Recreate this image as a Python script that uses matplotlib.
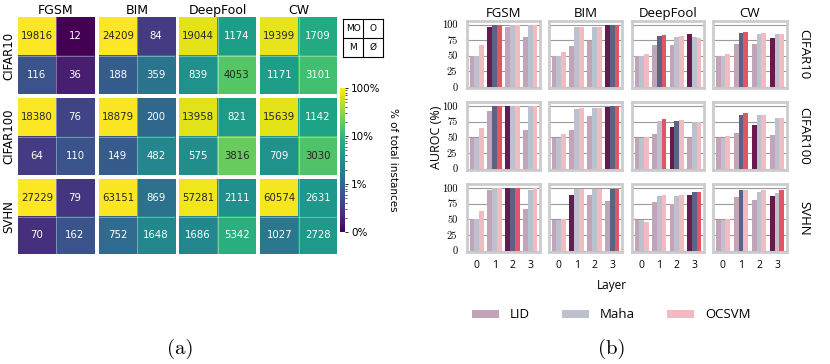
import matplotlib
matplotlib.use("Agg")
import matplotlib.pyplot as plt
import numpy as np
from matplotlib.colors import LogNorm, to_rgb
from matplotlib.patches import Patch

W, H = 830, 364

attacks = ["FGSM", "BIM", "DeepFool", "CW"]
datasets = ["CIFAR10", "CIFAR100", "SVHN"]
layers = [0, 1, 2, 3]
methods = ["LID", "Maha", "OCSVM"]

# (a) instance counts, 2x2 per dataset/attack: [[MO, O], [M, Ø]]
counts_cifar10 = {
    "FGSM": [[19816, 12], [116, 36]],
    "BIM": [[24209, 84], [188, 359]],
    "DeepFool": [[19044, 1174], [839, 4053]],
    "CW": [[19399, 1709], [1171, 3101]],
}
counts_cifar100 = {
    "FGSM": [[18380, 76], [64, 110]],
    "BIM": [[18879, 200], [149, 482]],
    "DeepFool": [[13958, 821], [575, 3816]],
    "CW": [[15639, 1142], [709, 3030]],
}
counts_svhn = {
    "FGSM": [[27229, 79], [70, 162]],
    "BIM": [[63151, 869], [752, 1648]],
    "DeepFool": [[57281, 2111], [1686, 5342]],
    "CW": [[60574, 2631], [1027, 2728]],
}
counts = {"CIFAR10": counts_cifar10, "CIFAR100": counts_cifar100, "SVHN": counts_svhn}

# (b) AUROC (%) per layer, rows: LID, Maha, OCSVM
auroc_cifar10 = {
    "FGSM": [[50, 97, 96, 81], [50, 100, 100, 100], [67, 100, 100, 100]],
    "BIM": [[49, 66, 74, 100], [49, 97, 97, 100], [56, 97, 97, 100]],
    "DeepFool": [[49, 67, 68, 85], [49, 81.5, 80.5, 80], [52, 84, 82, 79]],
    "CW": [[49, 69, 69, 79], [49, 86, 85, 85], [52, 88, 86, 85]],
}
auroc_cifar100 = {
    "FGSM": [[49, 91, 100, 62], [49, 100, 100, 100], [64, 100, 100, 100]],
    "BIM": [[49, 62, 83, 98], [49, 95, 97, 100], [55, 97, 97, 100]],
    "DeepFool": [[49, 55, 66, 49], [49, 76, 76.5, 74], [51, 78.5, 78, 74]],
    "CW": [[49, 57, 69, 54], [49, 86, 85, 81], [52, 88, 86, 81]],
}
auroc_svhn = {
    "FGSM": [[50, 97, 100, 67], [50, 99.5, 100, 97], [63, 99.6, 100, 99.8]],
    "BIM": [[49, 89, 88.5, 79], [49, 98, 98, 98.5], [51, 98, 98, 98.5]],
    "DeepFool": [[49, 77, 75, 88.5], [49, 87, 87, 93], [46, 89, 88.5, 94]],
    "CW": [[49, 86, 80, 87.5], [49, 96, 94, 92], [50, 96, 96, 97]],
}
auroc = {"CIFAR10": auroc_cifar10, "CIFAR100": auroc_cifar100, "SVHN": auroc_svhn}

method_colors = ["#661b4f", "#5a6285", "#e15665"]


def box(l, t, r, b):
    return [l / W, 1 - b / H, (r - l) / W, (b - t) / H]


def light(c, a=0.4):
    rgb = np.array(to_rgb(c))
    return tuple(a * rgb + (1 - a))


def lum(c):
    rgb = np.array(c[:3])
    rgb = np.where(rgb <= .03928, rgb / 12.92, ((rgb + .055) / 1.055) ** 2.4)
    return rgb.dot([.2126, .7152, .0722])


fig = plt.figure(figsize=(W / 100, H / 100), dpi=100)
cmap = plt.get_cmap("viridis")
norm = LogNorm(vmin=1e-3, vmax=1)

# ---------------- (a) heatmaps ----------------
hm_cols = [(18, 94), (99, 175), (179, 256), (260, 337)]
hm_rows = [(17, 94), (98, 175), (179, 254)]
for i, ds in enumerate(datasets):
    for j, att in enumerate(attacks):
        ax = fig.add_axes(box(hm_cols[j][0], hm_rows[i][0], hm_cols[j][1], hm_rows[i][1]))
        c = np.array(counts[ds][att])
        frac = c / c.sum()
        ax.imshow(frac, cmap=cmap, norm=norm, aspect="auto")
        for (r, k), v in np.ndenumerate(c):
            col = cmap(norm(frac[r, k]))
            tc = "#262626" if lum(col) > .408 else "white"
            ax.text(k, r, str(v), ha="center", va="center", fontsize=7.3, color=tc)
        ax.axhline(0.5, color="white", lw=0.5, alpha=0.5)
        ax.axvline(0.5, color="white", lw=0.5, alpha=0.5)
        ax.set_xticks([])
        ax.set_yticks([])
        for s in ax.spines.values():
            s.set_visible(False)
        if i == 0:
            ax.set_title(att, fontsize=9, pad=2)
        if j == 0:
            ax.set_ylabel(ds, fontsize=8.5, labelpad=2)

# colorbar
cax = fig.add_axes(box(340, 88, 345, 232))
sm = plt.cm.ScalarMappable(norm=norm, cmap=cmap)
cb = fig.colorbar(sm, cax=cax)
cb.outline.set_visible(False)
cb.set_ticks([1e-3, 1e-2, 1e-1, 1])
cb.set_ticklabels(["0%", "1%", "10%", "100%"])
cb.ax.tick_params(labelsize=7.5, length=2.5, width=0.6, pad=2)
cb.ax.tick_params(which="minor", length=1.5, width=0.5)
fig.text(393, H - 160, "% of total instances", rotation=-90, fontsize=7.5,
         ha="center", va="center", transform=None)

# key box
kax = fig.add_axes(box(343, 19, 383, 57))
kax.set_xlim(0, 2)
kax.set_ylim(2, 0)
kax.axhline(1, color="black", lw=0.8)
kax.axvline(1, color="black", lw=0.8)
for (r, k), t in np.ndenumerate(np.array([["MO", "O"], ["M", "Ø"]])):
    kax.text(k + 0.5, r + 0.5, t, ha="center", va="center", fontsize=6.5)
kax.set_xticks([])
kax.set_yticks([])
for s in kax.spines.values():
    s.set_linewidth(0.8)

fig.text(180, H - 349, "(a)", fontsize=15, family="cmr10", ha="center", va="center", transform=None)

# ---------------- (b) bar charts ----------------
bar_cols = [(467, 540), (549, 622), (632, 704), (713, 787)]
bar_rows = [(21, 88), (102, 170), (184, 252)]
x = np.arange(len(layers))
bw = 0.8 / 3
sans = "Open Sans"
for i, ds in enumerate(datasets):
    for j, att in enumerate(attacks):
        ax = fig.add_axes(box(bar_cols[j][0], bar_rows[i][0], bar_cols[j][1], bar_rows[i][1]))
        vals = np.array(auroc[ds][att])
        for m in range(3):
            best = np.argmax(vals[m])
            cols = [method_colors[m] if l == best else light(method_colors[m]) for l in layers]
            ax.bar(x + (m - 1) * bw, vals[m], width=bw, color=cols, zorder=2, linewidth=0)
        ax.set_ylim(-2, 106)
        ax.set_xlim(-0.55, 3.55)
        ax.set_yticks([0, 25, 50, 75, 100])
        ax.yaxis.grid(True, color="#9a9a9a", lw=0.8, zorder=1)
        ax.set_axisbelow(True)
        for s in ax.spines.values():
            s.set_color("#cccccc")
            s.set_linewidth(2)
        ax.tick_params(length=0)
        ax.set_xticks(x)
        if i == len(datasets) - 1:
            ax.set_xticklabels([str(l) for l in layers], fontsize=7.5, family=sans)
            ax.tick_params(axis="x", pad=6)
        else:
            ax.set_xticklabels([])
        if j == 0:
            ax.set_yticklabels(["0", "25", "50", "75", "100"], fontsize=7.5, family="cmr10")
            ax.tick_params(axis="y", pad=7)
        else:
            ax.set_yticklabels([])
        if i == 0:
            ax.set_title(att, fontsize=9.5, pad=3, family=sans)
        if j == len(attacks) - 1:
            ax.yaxis.set_label_position("right")
            ax.set_ylabel(ds, rotation=-90, fontsize=9.5, labelpad=12, family=sans, va="center")

fig.text(437, H - 137, "AUROC (%)", rotation=90, fontsize=9, family=sans,
         ha="center", va="center", transform=None)
fig.text(612, H - 285, "Layer", fontsize=8.5, family=sans, ha="center", va="center", transform=None)

handles = [Patch(facecolor=light(c), edgecolor="none") for c in method_colors]
fig.legend(handles, methods, loc="center", bbox_to_anchor=(611 / W, 1 - 315 / H), ncol=3,
           frameon=False, handlelength=2.1, handleheight=0.6,
           handletextpad=0.8, columnspacing=2.4, prop={"family": sans, "size": 9.5})

fig.text(612, H - 349, "(b)", fontsize=15, family="cmr10", ha="center", va="center", transform=None)

fig.savefig("out.png", dpi=100)
